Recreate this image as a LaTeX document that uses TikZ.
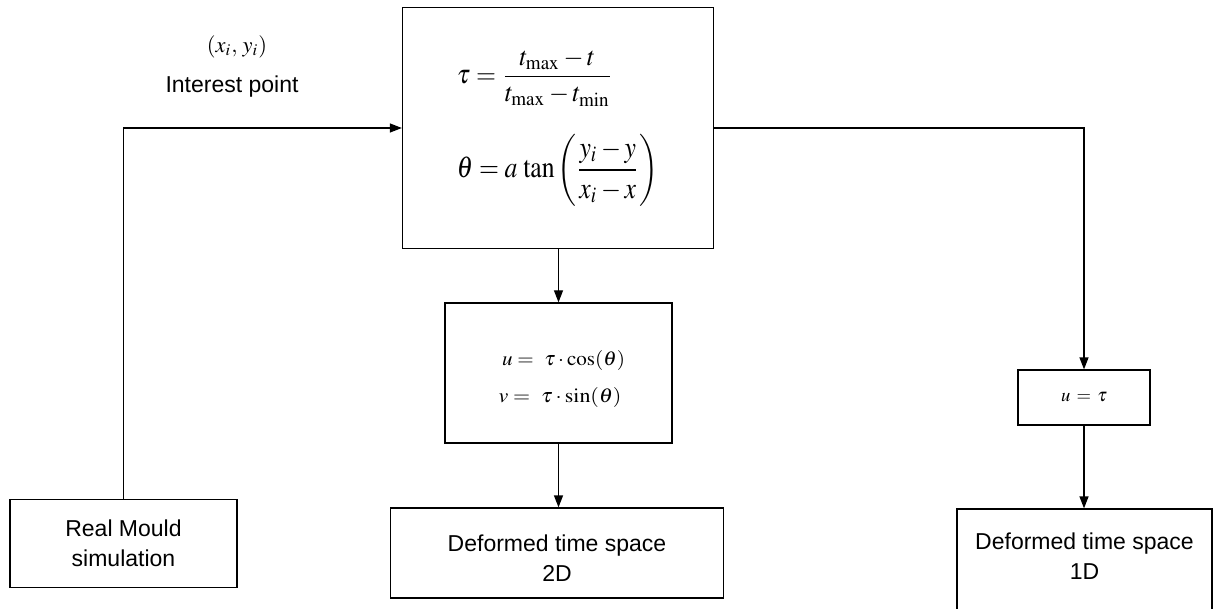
\documentclass[tikz,border=0pt]{standalone}
\usepackage{mathptmx}
\usepackage{graphicx}
\usepackage{fontspec}
\setmainfont{Liberation Sans}
\usetikzlibrary{arrows.meta}
\tikzset{
  box/.style={draw, line width=1.3pt, inner sep=0pt, align=center, font=\fontsize{23}{30}\selectfont},
  lbl/.style={inner sep=0pt, align=center},
  conn/.style={line width=1.3pt},
  arr/.style={conn, -{Triangle[length=12pt,width=9pt]}},
}
\begin{document}
\begin{tikzpicture}[x=1pt,y=-1pt]
\useasboundingbox (0,0) rectangle (1214,609);
\clip (0,0) rectangle (1214,609);
\node[box, minimum width=311pt, minimum height=241pt] (top) at (558,128) {};
\node[lbl] (f1) at (535,78) {\resizebox*{156pt}{56pt}{$\displaystyle \tau=\frac{t_{\mathrm{max}}-t}{t_{\mathrm{max}}-t_{\mathrm{min}}}$}};
\node[lbl] (f2) at (557.5,170) {\resizebox*{201pt}{72pt}{$\displaystyle \theta=a\,\tan\left(\frac{y_i-y}{x_i-x}\right)$}};
\node[lbl] (pt) at (237,47) {\resizebox{60pt}{!}{$(x_i,\,y_i)$}};
\node[lbl] (ip) at (232,87) {\fontsize{23}{28}\selectfont Interest point};
\node[box, minimum width=227pt, minimum height=88pt] (rm) at (123.5,543.5) {Real Mould\\simulation};
\node[box, minimum width=227pt, minimum height=140pt] (b2) at (558.5,373) {};
\node[lbl] (m1) at (563.5,360) {\resizebox*{123pt}{20pt}{$u=\ \tau\cdot\cos(\theta)$}};
\node[lbl] (m2) at (560,397) {\resizebox*{123pt}{20pt}{$v=\ \tau\cdot\sin(\theta)$}};
\node[box, minimum width=333pt, minimum height=90pt] (b3) at (557,553) {};
\node[lbl, font=\fontsize{23}{30}\selectfont] (t3) at (557,558) {Deformed time space\\2D};
\node[box, minimum width=132pt, minimum height=55pt] (b4) at (1084,397.5) {\resizebox{46pt}{!}{$u\,=\,\tau$}};
\node[box, minimum width=255pt, minimum height=110pt] (b5) at (1084.5,564) {};
\node[lbl, font=\fontsize{23}{30}\selectfont] (t5) at (1084.5,556) {Deformed time space\\1D};
\draw[arr] (rm.north) |- (top.west);
\draw[arr] (top.east) -| (b4.north);
\draw[arr] (top.south -| b2.north) -- (b2.north);
\draw[arr] (b2.south) -- (b2.south |- b3.north);
\draw[arr] (b4.south) -- (b4.south |- b5.north);
\end{tikzpicture}
\end{document}
